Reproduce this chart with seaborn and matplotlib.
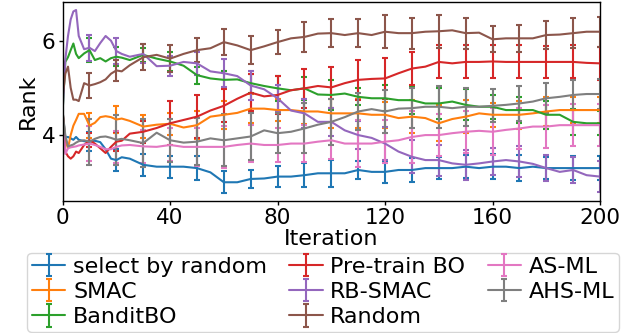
import numpy as np
import matplotlib
matplotlib.use("Agg")
import matplotlib.pyplot as plt
import seaborn as sns

# ---------------- data ----------------
iterations = [0, 1, 2, 3, 4, 5, 6, 8, 10, 12, 14, 16, 18, 20, 22, 25,
              30, 35, 40, 45, 50, 55, 60, 65, 70, 75, 80, 85, 90, 95, 100,
              105, 110, 115, 120, 125, 130, 135, 140, 145, 150, 155, 160,
              165, 170, 175, 180, 185, 190, 195, 200]
errbar_iterations = [10, 20, 30, 40, 50, 60, 70, 80, 90, 100,
                     110, 120, 130, 140, 150, 160, 170, 180, 190, 200]

method_names = ["select by random", "SMAC", "BanditBO", "Pre-train BO",
                "RB-SMAC", "Random", "AS-ML", "AHS-ML"]

select_by_random = [4.5, 3.95, 3.96, 3.93, 3.9, 3.96, 3.9, 3.87, 3.86, 3.88, 3.85, 3.7, 3.5, 3.47, 3.53, 3.5,
                    3.37, 3.33, 3.33, 3.33, 3.3, 3.21, 3.0, 3.0, 3.07, 3.08, 3.12, 3.12, 3.15, 3.19, 3.19,
                    3.19, 3.26, 3.22, 3.22, 3.26, 3.26, 3.3, 3.3, 3.3, 3.33, 3.3, 3.33,
                    3.33, 3.3, 3.33, 3.3, 3.3, 3.3, 3.3, 3.3]
smac = [4.5, 3.9, 3.72, 4.0, 4.2, 4.32, 4.45, 4.45, 4.2, 4.26, 4.38, 4.4, 4.38, 4.33, 4.35, 4.3,
        4.18, 4.22, 4.24, 4.16, 4.21, 4.39, 4.43, 4.47, 4.56, 4.56, 4.53, 4.53, 4.5, 4.5, 4.46,
        4.46, 4.46, 4.43, 4.43, 4.36, 4.39, 4.36, 4.25, 4.34, 4.39, 4.46, 4.43,
        4.43, 4.43, 4.46, 4.5, 4.53, 4.53, 4.53, 4.53]
bandit_bo = [4.5, 5.55, 5.65, 5.8, 5.94, 5.72, 5.63, 5.73, 5.8, 5.59, 5.63, 5.56, 5.63, 5.66, 5.64, 5.59,
             5.7, 5.62, 5.56, 5.47, 5.27, 5.2, 5.17, 5.18, 5.1, 5.04, 4.99, 4.95, 4.99, 4.86, 4.85,
             4.88, 4.81, 4.78, 4.78, 4.74, 4.74, 4.67, 4.67, 4.71, 4.64, 4.6, 4.6,
             4.53, 4.53, 4.53, 4.43, 4.43, 4.28, 4.25, 4.25]
pretrain_bo = [4.5, 3.65, 3.55, 3.5, 3.55, 3.65, 3.62, 3.79, 3.89, 3.82, 3.72, 3.62, 3.75, 3.86, 3.88, 4.03,
               4.07, 4.15, 4.25, 4.32, 4.39, 4.52, 4.62, 4.77, 4.9, 4.82, 4.85, 4.95, 4.99, 5.04, 5.01,
               5.1, 5.17, 5.19, 5.2, 5.31, 5.41, 5.45, 5.55, 5.52, 5.55, 5.55, 5.56,
               5.55, 5.55, 5.55, 5.55, 5.55, 5.55, 5.53, 5.52]
rb_smac = [4.5, 5.6, 6.1, 6.45, 6.62, 6.65, 6.1, 5.82, 5.85, 5.78, 5.95, 6.1, 6.0, 5.78, 5.72, 5.66,
           5.72, 5.46, 5.47, 5.55, 5.52, 5.35, 5.31, 5.25, 5.05, 4.97, 4.78, 4.52, 4.46, 4.28, 4.28,
           4.1, 4.0, 3.94, 3.82, 3.65, 3.54, 3.47, 3.47, 3.4, 3.37, 3.4, 3.44,
           3.47, 3.44, 3.39, 3.3, 3.22, 3.26, 3.15, 3.12]
random_search = [4.8, 5.3, 5.45, 5.0, 4.75, 4.75, 4.72, 5.1, 5.05, 5.08, 5.12, 5.18, 5.3, 5.37, 5.35, 5.48,
                 5.65, 5.7, 5.62, 5.72, 5.8, 5.84, 5.97, 5.9, 5.8, 5.88, 5.97, 6.05, 6.08, 6.15, 6.16,
                 6.12, 6.16, 6.12, 6.19, 6.16, 6.16, 6.19, 6.2, 6.22, 6.16, 6.17, 6.03,
                 6.05, 6.05, 6.05, 6.12, 6.13, 6.16, 6.19, 6.19]
as_ml = [4.5, 3.6, 3.72, 3.74, 3.75, 3.76, 3.78, 3.8, 3.82, 3.79, 3.75, 3.7, 3.7, 3.75, 3.78, 3.79,
         3.76, 3.75, 3.79, 3.75, 3.75, 3.75, 3.75, 3.79, 3.82, 3.79, 3.79, 3.82, 3.82, 3.86, 3.89,
         3.82, 3.82, 3.82, 3.86, 3.89, 3.96, 4.0, 4.0, 4.04, 4.07, 4.09, 4.07,
         4.11, 4.14, 4.18, 4.18, 4.21, 4.21, 4.21, 4.21]
ahs_ml = [4.5, 4.0, 3.76, 3.78, 3.8, 3.84, 3.87, 3.89, 3.86, 3.92, 3.96, 3.97, 3.94, 3.9, 3.92, 3.89,
          3.83, 4.05, 3.89, 3.84, 3.86, 3.93, 3.89, 3.93, 3.97, 4.1, 4.04, 4.07, 4.14, 4.22, 4.28,
          4.38, 4.5, 4.55, 4.5, 4.56, 4.57, 4.6, 4.6, 4.57, 4.6, 4.6, 4.62,
          4.64, 4.67, 4.71, 4.78, 4.81, 4.85, 4.87, 4.87]

# half-widths of the error bars at errbar_iterations
err_select_by_random = [0.2, 0.23, 0.23, 0.23, 0.25, 0.23, 0.2, 0.23, 0.25, 0.28,
                        0.2, 0.23, 0.26, 0.23, 0.25, 0.26, 0.28, 0.23, 0.25, 0.25]
err_smac = [0.26, 0.28, 0.24, 0.23, 0.3, 0.3, 0.3, 0.23, 0.26, 0.3,
            0.3, 0.28, 0.35, 0.38, 0.35, 0.25, 0.3, 0.3, 0.28, 0.28]
err_bandit_bo = [0.25, 0.2, 0.15, 0.21, 0.18, 0.18, 0.2, 0.26, 0.25, 0.32,
                 0.18, 0.28, 0.3, 0.32, 0.33, 0.25, 0.28, 0.3, 0.27, 0.25]
err_pretrain_bo = [0.15, 0.2, 0.23, 0.47, 0.45, 0.35, 0.4, 0.4, 0.41, 0.44,
                   0.42, 0.44, 0.35, 0.35, 0.35, 0.35, 0.35, 0.34, 0.35, 0.35]
err_rb_smac = [0.28, 0.28, 0.2, 0.21, 0.25, 0.3, 0.3, 0.28, 0.3, 0.3,
               0.3, 0.35, 0.35, 0.33, 0.32, 0.28, 0.32, 0.28, 0.28, 0.32]
err_random_search = [0.26, 0.23, 0.28, 0.28, 0.26, 0.28, 0.3, 0.26, 0.32, 0.3,
                     0.3, 0.35, 0.33, 0.35, 0.33, 0.28, 0.28, 0.3, 0.32, 0.32]
err_as_ml = [0.37, 0.34, 0.35, 0.35, 0.4, 0.45, 0.4, 0.37, 0.4, 0.39,
             0.5, 0.45, 0.56, 0.45, 0.45, 0.5, 0.44, 0.45, 0.45, 0.45]
err_ahs_ml = [0.49, 0.53, 0.5, 0.46, 0.5, 0.55, 0.5, 0.42, 0.53, 0.49,
              0.4, 0.46, 0.42, 0.44, 0.4, 0.35, 0.37, 0.32, 0.32, 0.32]

series = [select_by_random, smac, bandit_bo, pretrain_bo,
          rb_smac, random_search, as_ml, ahs_ml]
errors = [err_select_by_random, err_smac, err_bandit_bo, err_pretrain_bo,
          err_rb_smac, err_random_search, err_as_ml, err_ahs_ml]

xticks = [0, 40, 80, 120, 160, 200]
yticks = [4, 6]

# ---------------- style ----------------
sns.set_theme(style="ticks", palette="tab10")
plt.rcParams.update({
    "font.family": ["DejaVu Sans"],
    "axes.edgecolor": "black",
    "axes.labelcolor": "black",
    "text.color": "black",
    "xtick.color": "black",
    "ytick.color": "black",
    "axes.linewidth": 1.0,
})
colors = sns.color_palette("tab10", len(method_names))

fig, ax = plt.subplots(figsize=(6.39, 3.33), dpi=100)
fig.subplots_adjust(left=0.098, right=0.939, bottom=0.396, top=0.994)

x = np.array(iterations)
mask = np.isin(x, errbar_iterations)
for name, vals, errs, col in zip(method_names, series, errors, colors):
    yerr = np.zeros(len(x))
    yerr[mask] = errs
    ax.errorbar(x, vals, yerr=yerr, errorevery=mask, color=col, lw=1.5,
                elinewidth=1.5, capsize=2.5, capthick=1.5, label=name)

ax.set_xlim(0, 200)
ax.set_ylim(2.6, 6.82)
ax.set_xticks(xticks)
ax.set_yticks(yticks)
ax.tick_params(axis="both", labelsize=15.5, length=3, width=1, pad=2)
ax.set_xlabel("Iteration", fontsize=16, labelpad=1)
ax.set_ylabel("Rank", fontsize=16, labelpad=3)
for s in ax.spines.values():
    s.set_visible(True)

fig.legend(loc="lower left", bbox_to_anchor=(0.043, 0.004), ncol=3,
           fontsize=16, handlelength=1.5, handletextpad=0.35,
           columnspacing=1.0, labelspacing=0.23, borderpad=0.2,
           borderaxespad=0)

fig.savefig("out.png", dpi=100)
